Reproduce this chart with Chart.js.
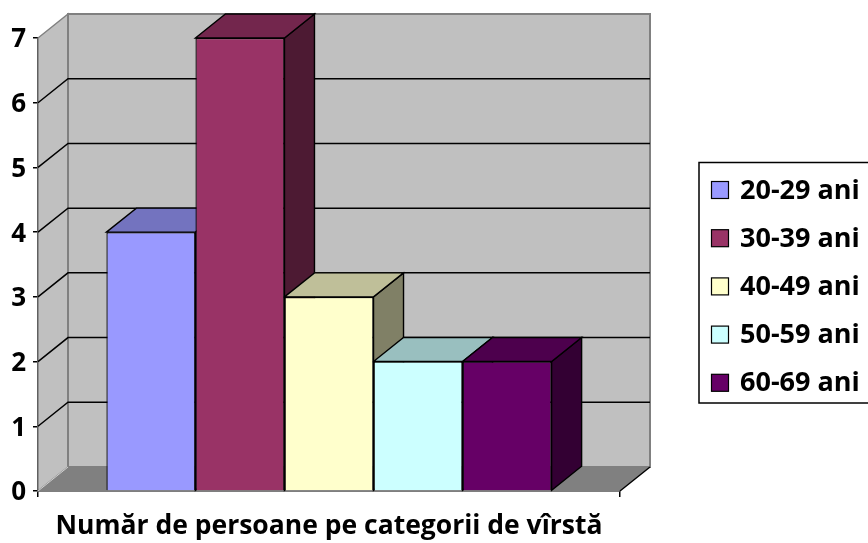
<!DOCTYPE html>
<html>
<head>
<meta charset="utf-8">
<script src="https://cdn.jsdelivr.net/npm/chart.js@4.4.1/dist/chart.umd.min.js"></script>
<style>
  html, body { margin: 0; padding: 0; background: #ffffff; }
  #wrap { width: 868px; height: 543px; }
</style>
</head>
<body>
<div id="wrap"><canvas id="c" width="868" height="543"></canvas></div>
<script>
// ---- data ----
const categories = ['Număr de persoane pe categorii de vîrstă'];
const seriesLabels = ['20-29 ani', '30-39 ani', '40-49 ani', '50-59 ani', '60-69 ani'];
const seriesValues = [[4], [7], [3], [2], [2]];
const seriesColors = ['#9999ff', '#993366', '#ffffcc', '#ccffff', '#660066'];
const yTicks = [0, 1, 2, 3, 4, 5, 6, 7];

const FONT = "'Open Sans', sans-serif";
const DX = 30, DY = -24;

function shade(hex, f) {
  const n = parseInt(hex.slice(1), 16);
  const r = Math.round(((n >> 16) & 255) * f);
  const g = Math.round(((n >> 8) & 255) * f);
  const b = Math.round((n & 255) * f);
  return 'rgb(' + r + ',' + g + ',' + b + ')';
}

function poly(ctx, pts, fill, stroke, lw) {
  ctx.beginPath();
  ctx.moveTo(pts[0][0], pts[0][1]);
  for (let i = 1; i < pts.length; i++) ctx.lineTo(pts[i][0], pts[i][1]);
  ctx.closePath();
  if (fill) { ctx.fillStyle = fill; ctx.fill(); }
  if (stroke) { ctx.strokeStyle = stroke; ctx.lineWidth = lw || 1; ctx.stroke(); }
}

const threeD = {
  id: 'threeD',
  beforeDatasetsDraw(chart) {
    const ctx = chart.ctx;
    const ys = chart.scales.y;
    const a = chart.chartArea;
    const L = a.left, R = a.right;
    const y0 = ys.getPixelForValue(ys.min), yT = ys.getPixelForValue(ys.max);
    ctx.save();
    ctx.lineJoin = 'miter';
    // side wall
    poly(ctx, [[L, y0], [L + DX, y0 + DY], [L + DX, yT + DY], [L, yT]], '#c0c0c0', '#808080', 1.5);
    // back wall
    poly(ctx, [[L + DX, yT + DY], [R + DX, yT + DY], [R + DX, y0 + DY], [L + DX, y0 + DY]], '#c0c0c0', '#808080', 2);
    // floor
    poly(ctx, [[L, y0], [R, y0], [R + DX, y0 + DY], [L + DX, y0 + DY]], '#808080', null);
    ctx.strokeStyle = '#000000'; ctx.lineWidth = 1.5;
    ctx.beginPath(); ctx.moveTo(R, y0); ctx.lineTo(R + DX, y0 + DY); ctx.stroke();
    ctx.strokeStyle = '#d0d0d0'; ctx.lineWidth = 1;
    ctx.beginPath(); ctx.moveTo(L, y0); ctx.lineTo(L + DX, y0 + DY); ctx.stroke();
    // grid lines on walls
    ys.ticks.forEach(t => {
      if (t.value <= ys.min || t.value >= ys.max) return;
      const p = ys.getPixelForValue(t.value);
      ctx.strokeStyle = '#000000'; ctx.lineWidth = 1.5;
      ctx.beginPath();
      ctx.moveTo(L, p); ctx.lineTo(L + DX, p + DY); ctx.lineTo(R + DX, p + DY);
      ctx.stroke();
    });
    // bar top & side faces (left to right)
    chart.data.datasets.forEach((ds, i) => {
      const meta = chart.getDatasetMeta(i);
      meta.data.forEach(bar => {
        const l = bar.x - bar.width / 2, r = bar.x + bar.width / 2;
        const top = bar.y, base = bar.base;
        const col = ds.backgroundColor;
        poly(ctx, [[r, top], [r + DX, top + DY], [r + DX, base + DY], [r, base]], shade(col, 0.5), '#000000', 1.4);
        poly(ctx, [[l, top], [r, top], [r + DX, top + DY], [l + DX, top + DY]], shade(col, 0.75), '#000000', 1.4);
      });
    });
    ctx.restore();
  },
  afterDraw(chart) {
    const ctx = chart.ctx;
    ctx.save();
    // legend box
    ctx.strokeStyle = '#000000'; ctx.lineWidth = 1.5;
    ctx.strokeRect(699, 162.5, 200, 240.5);
    const rowY0 = 190, rowStep = 48.2;
    chart.data.datasets.forEach((ds, i) => {
      const cy = rowY0 + i * rowStep;
      ctx.fillStyle = ds.backgroundColor;
      ctx.fillRect(711.5, cy - 8.5, 17, 17);
      ctx.strokeStyle = '#000000'; ctx.lineWidth = 1.2;
      ctx.strokeRect(711.5, cy - 8.5, 17, 17);
      ctx.fillStyle = '#000000';
      ctx.font = 'bold 27px ' + FONT;
      ctx.textAlign = 'left';
      ctx.textBaseline = 'middle';
      ctx.fillText(ds.label, 740, cy + 1);
    });
    ctx.restore();
  }
};

const datasets = seriesLabels.map((lab, i) => ({
  label: lab,
  data: seriesValues[i],
  backgroundColor: seriesColors[i],
  borderColor: '#000000',
  borderWidth: 1.3,
  categoryPercentage: 0.765,
  barPercentage: 1.0
}));

new Chart(document.getElementById('c'), {
  type: 'bar',
  data: { labels: categories, datasets: datasets },
  options: {
    responsive: false,
    animation: false,
    layout: { padding: { top: 38, right: 248, bottom: 0, left: 0 } },
    plugins: {
      legend: { display: false },
      tooltip: { enabled: false },
      title: { display: false }
    },
    scales: {
      x: {
        grid: { display: true, drawOnChartArea: false, drawTicks: true, tickLength: 6, color: '#000000', lineWidth: 1.5, offset: true },
        border: { display: true, color: '#000000', width: 1.5 },
        ticks: { color: '#000000', font: { family: FONT, size: 26.5, weight: 'bold' }, padding: 14, maxRotation: 0, minRotation: 0, autoSkip: false },
        afterFit(scale) { scale.height = 52; }
      },
      y: {
        min: 0, max: 7,
        afterBuildTicks(scale) { scale.ticks = yTicks.map(v => ({ value: v })); },
        grid: { display: true, drawOnChartArea: false, drawTicks: true, tickLength: 5, color: '#000000', lineWidth: 1.5 },
        border: { display: true, color: '#000000', width: 1.5 },
        ticks: { color: '#000000', font: { family: FONT, size: 26, weight: 'bold' }, padding: 7, labelOffset: 2 },
        afterFit(scale) { scale.width = 38; }
      }
    }
  },
  plugins: [threeD]
});
</script>
</body>
</html>
